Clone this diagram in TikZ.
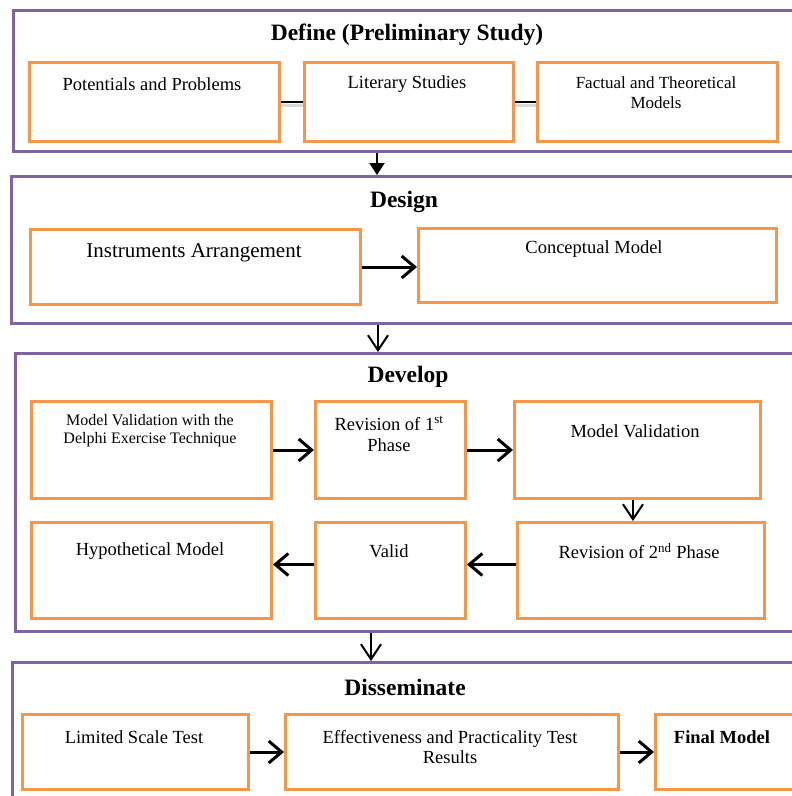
\documentclass[tikz,border=0pt]{standalone}
\usepackage{fontspec}
\setmainfont{Liberation Serif}
\usetikzlibrary{arrows.meta}
\definecolor{purp}{HTML}{8064A2}
\definecolor{orng}{HTML}{F79646}
\begin{document}
\begin{tikzpicture}[x=1pt,y=-1pt,
  phase/.style={draw=purp, line width=3pt, inner sep=0pt, anchor=north west},
  box/.style={draw=orng, line width=3pt, inner sep=0pt, anchor=north west},
  ttl/.style={font=\fontsize{23.5}{28}\selectfont\bfseries},
  txt/.style={font=\fontsize{18.5}{20}\selectfont, align=center},
  arr/.style={-{Straight Barb[length=13pt,width=22pt,line width=3pt]}, line width=3pt},
  varr/.style={-{Straight Barb[length=15pt,width=20pt,line width=2pt]}, line width=2pt},
  farr/.style={-{Triangle[length=12pt,width=15pt]}, line width=2pt},
  link/.style={line width=2.4pt},
  shade/.style={line width=3pt, gray!30}]
\clip (0,0) rectangle (792,796);
\fill[white] (0,0) rectangle (792,796);

% ---------- Define ----------
\node[phase, minimum width=800pt, minimum height=141pt] (def) at (12,9) {};
\node[ttl] (tdef) at (407,35) {Define (Preliminary Study)};
\node[box, minimum width=250pt, minimum height=79pt] (p1) at (28,61) {};
\node[box, minimum width=209pt, minimum height=79pt] (p2) at (303,61) {};
\node[box, minimum width=240pt, minimum height=79pt] (p3) at (536,61) {};
\node[txt] (t1) at (152,84) {Potentials and Problems};
\node[txt] (t2) at (407,84) {Literary Studies};
\node[txt, font=\fontsize{17}{20}\selectfont] (t3) at (656,93) {Factual and Theoretical\\Models};
\draw[shade] ([yshift=-3pt]p1.east) -- ([yshift=-3pt]p2.west);
\draw[shade] ([yshift=-3pt]p2.east) -- ([yshift=-3pt]p3.west);
\draw[link] (p1.east) -- (p2.west);
\draw[link] (p2.east) -- (p3.west);

% ---------- Design ----------
\node[phase, minimum width=800pt, minimum height=147pt] (des) at (10,175) {};
\node[ttl] (tdes) at (404,202) {Design};
\node[box, minimum width=330pt, minimum height=75pt] (ia) at (29,228) {};
\node[box, minimum width=358pt, minimum height=74pt] (cm) at (417,227) {};
\node[txt, font=\fontsize{21}{24}\selectfont] (tia) at (194,253) {Instruments Arrangement};
\node[txt] (tcm) at (594,249) {Conceptual Model};
\draw[arr] (ia.east) -- (ia.east -| cm.west);

\coordinate (x1) at (377,0);
\draw[farr] (def.south -| x1) -- (des.north -| x1);

% ---------- Develop ----------
\node[phase, minimum width=800pt, minimum height=278pt] (dev) at (14,352) {};
\node[ttl] (tdev) at (408,377) {Develop};
\node[box, minimum width=240pt, minimum height=97pt] (a) at (30,400) {};
\node[box, minimum width=150pt, minimum height=97pt] (b) at (314,400) {};
\node[box, minimum width=246pt, minimum height=97pt] (c) at (513,400) {};
\node[box, minimum width=240pt, minimum height=96pt] (d) at (30,521) {};
\node[box, minimum width=150pt, minimum height=96pt] (e) at (314,521) {};
\node[box, minimum width=247pt, minimum height=96pt] (f) at (516,521) {};
\node[txt, font=\fontsize{16}{18}\selectfont] (ta) at (150,431) {Model Validation with the\\Delphi Exercise Technique};
\node[txt, font=\fontsize{18.5}{21}\selectfont] (tb) at (389,434) {Revision of 1\textsuperscript{st}\\Phase};
\node[txt] (tc) at (635,431) {Model Validation};
\node[txt] (td) at (150,551) {Hypothetical Model};
\node[txt] (te) at (389,551) {Valid};
\node[txt] (tf) at (639,551) {Revision of 2\textsuperscript{nd} Phase};
\draw[arr] (a.east) -- (b.west);
\draw[arr] (b.east) -- (c.west);
\coordinate (x3) at (633,0);
\draw[varr] (c.south -| x3) -- (f.north -| x3);
\draw[arr] ([yshift=6pt]f.west) -- ([yshift=6pt]f.west -| e.east);
\draw[arr] ([yshift=6pt]e.west) -- ([yshift=6pt]e.west -| d.east);

\coordinate (x2) at (378,0);
\draw[varr] (des.south -| x2) -- (dev.north -| x2);

% ---------- Disseminate ----------
\node[phase, minimum width=800pt, minimum height=160pt] (dis) at (11,661) {};
\node[ttl] (tdis) at (405,687) {Disseminate};
\node[box, minimum width=226pt, minimum height=75pt] (g) at (21,713) {};
\node[box, minimum width=333pt, minimum height=75pt] (h) at (284,713) {};
\node[box, minimum width=145pt, minimum height=75pt] (i) at (654,713) {};
\node[txt] (tg) at (134,737) {Limited Scale Test};
\node[txt] (th) at (450,747) {Effectiveness and Practicality Test\\Results};
\node[txt, font=\fontsize{18.5}{20}\selectfont\bfseries] (ti) at (722,737) {Final Model};
\draw[arr] (g.east) -- (h.west);
\draw[arr] (h.east) -- (i.west);

\coordinate (x4) at (371,0);
\draw[varr] (dev.south -| x4) -- (dis.north -| x4);
\end{tikzpicture}
\end{document}
